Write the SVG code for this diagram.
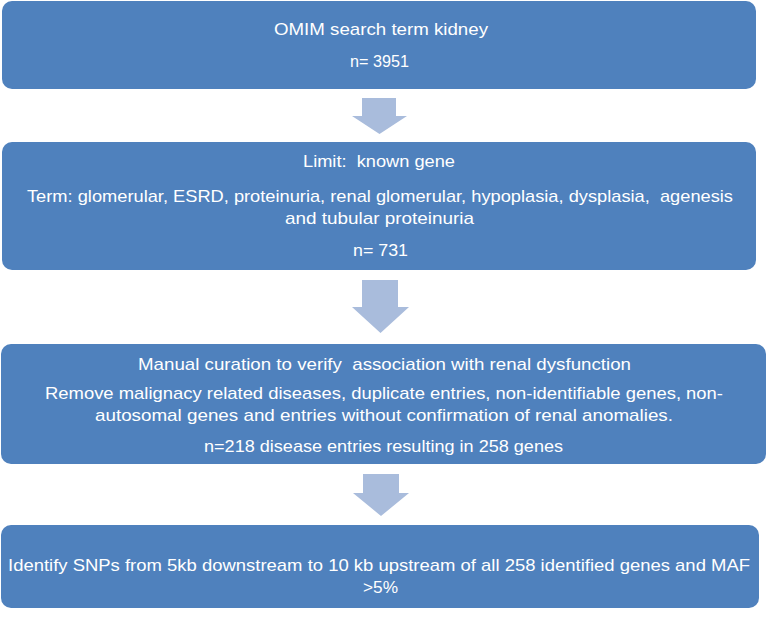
<svg xmlns="http://www.w3.org/2000/svg" width="768" height="620" viewBox="0 0 768 620">
<style>
.box{fill:#4F81BD;}
.arr{fill:#A9BCDC;}
text{font-family:"Liberation Sans",Arial,sans-serif;font-size:17px;fill:#FFFFFF;text-anchor:middle;white-space:pre;}
</style>
<rect width="768" height="620" fill="#FFFFFF"/>
<g id="connectors">
<polygon class="arr" points="362,98 396,98 396,116 407,116 379.5,134 352,116 362,116"/>
<polygon class="arr" points="362,280 398,280 398,307 409,307 380.5,333 352,307 362,307"/>
<polygon class="arr" points="363,474 399,474 399,493 409,493 381,516 353,493 363,493"/>
</g>
<g id="node1">
<rect class="box" x="2" y="1" width="754" height="88" rx="10"/>
<text x="381" y="35" textLength="214" lengthAdjust="spacingAndGlyphs">OMIM search term kidney</text>
<text x="379.5" y="67" textLength="59" lengthAdjust="spacingAndGlyphs">n= 3951</text>
</g>
<g id="node2">
<rect class="box" x="2" y="142" width="754" height="128" rx="10"/>
<text x="379" y="167" textLength="152" lengthAdjust="spacingAndGlyphs">Limit:  known gene</text>
<text x="380" y="202" textLength="706" lengthAdjust="spacingAndGlyphs">Term: glomerular, ESRD, proteinuria, renal glomerular, hypoplasia, dysplasia,  agenesis</text>
<text x="379.5" y="224" textLength="189" lengthAdjust="spacingAndGlyphs">and tubular proteinuria</text>
<text x="380.5" y="256" textLength="55" lengthAdjust="spacingAndGlyphs">n= 731</text>
</g>
<g id="node3">
<rect class="box" x="1" y="344" width="765" height="120" rx="10"/>
<text x="384.5" y="370" textLength="493" lengthAdjust="spacingAndGlyphs">Manual curation to verify  association with renal dysfunction</text>
<text x="384" y="399" textLength="678" lengthAdjust="spacingAndGlyphs">Remove malignacy related diseases, duplicate entries, non-identifiable genes, non-</text>
<text x="384" y="421" textLength="578" lengthAdjust="spacingAndGlyphs">autosomal genes and entries without confirmation of renal anomalies.</text>
<text x="383.5" y="452" textLength="359" lengthAdjust="spacingAndGlyphs">n=218 disease entries resulting in 258 genes</text>
</g>
<g id="node4">
<rect class="box" x="1" y="525" width="758" height="83" rx="10"/>
<text x="379" y="571" textLength="742" lengthAdjust="spacingAndGlyphs">Identify SNPs from 5kb downstream to 10 kb upstream of all 258 identified genes and MAF</text>
<text x="380.5" y="593" textLength="35" lengthAdjust="spacingAndGlyphs">&gt;5%</text>
</g>
</svg>
